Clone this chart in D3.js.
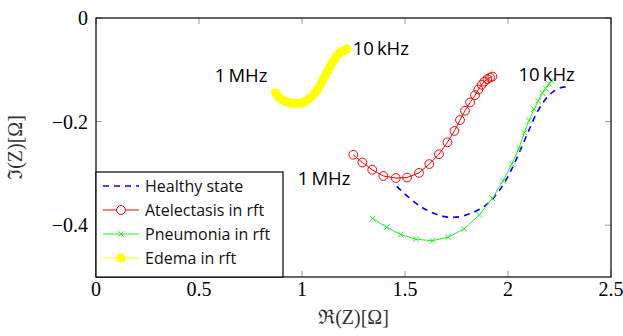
<!DOCTYPE html>
<html>
<head>
<meta charset="utf-8">
<script src="https://cdn.jsdelivr.net/npm/d3@7"></script>
<style>
  html, body { margin: 0; padding: 0; background: #fff; }
  svg { display: block; }
</style>
</head>
<body>
<svg id="chart" width="623" height="336"></svg>
<script>
// ---- data ----
const healthyRe = [1.46, 1.52, 1.58, 1.64, 1.70, 1.76, 1.82, 1.88, 1.93, 1.98, 2.02, 2.06, 2.10, 2.14, 2.18, 2.22, 2.26, 2.28];
const healthyIm = [-0.325, -0.347, -0.365, -0.377, -0.384, -0.384, -0.377, -0.365, -0.347, -0.320, -0.290, -0.255, -0.218, -0.183, -0.158, -0.142, -0.134, -0.133];

const atelectasisRe = [1.249, 1.293, 1.341, 1.395, 1.455, 1.510, 1.568, 1.618, 1.665, 1.706, 1.740, 1.767, 1.791, 1.816, 1.840, 1.856, 1.872, 1.885, 1.900, 1.913, 1.924];
const atelectasisIm = [-0.264, -0.279, -0.293, -0.305, -0.309, -0.308, -0.299, -0.282, -0.263, -0.240, -0.218, -0.197, -0.179, -0.163, -0.149, -0.138, -0.129, -0.123, -0.118, -0.115, -0.113];

const pneumoniaRe = [1.343, 1.411, 1.479, 1.553, 1.633, 1.710, 1.788, 1.861, 1.924, 1.975, 2.018, 2.053, 2.079, 2.102, 2.126, 2.147, 2.167, 2.183, 2.199, 2.212];
const pneumoniaIm = [-0.387, -0.404, -0.418, -0.427, -0.430, -0.423, -0.407, -0.380, -0.348, -0.315, -0.282, -0.252, -0.221, -0.198, -0.176, -0.160, -0.145, -0.136, -0.127, -0.121];

const edemaRe = [0.872, 0.885, 0.900, 0.915, 0.930, 0.945, 0.960, 0.975, 0.990, 1.005, 1.020, 1.035, 1.050, 1.063, 1.076, 1.088, 1.100, 1.112, 1.124, 1.136, 1.148, 1.160, 1.172, 1.185, 1.200, 1.218];
const edemaIm = [-0.145, -0.152, -0.157, -0.160, -0.162, -0.164, -0.165, -0.165, -0.165, -0.163, -0.160, -0.156, -0.151, -0.145, -0.138, -0.130, -0.121, -0.112, -0.103, -0.094, -0.086, -0.079, -0.072, -0.067, -0.063, -0.060];

const xTicks = [0, 0.5, 1, 1.5, 2, 2.5];
const yTicks = [0, -0.2, -0.4];

// frequency annotations: [text, re, im, anchor]
const annotations = [
  ['10\u2009kHz', 1.246, -0.058, 'start'],
  ['1\u2009MHz', 0.832, -0.111, 'end'],
  ['10\u2009kHz', 2.051, -0.110, 'start'],
  ['1\u2009MHz', 1.235, -0.309, 'end']
];

const legendNames = ['Healthy state', 'Atelectasis in rft', 'Pneumonia in rft', 'Edema in rft'];

// ---- layout ----
const M = { left: 96, top: 18, right: 611, bottom: 277 };
const SERIF = '"Liberation Serif", "DejaVu Serif", serif';
const SANS = '"Open Sans", "DejaVu Sans", sans-serif';
const COLORS = { healthy: '#0000ff', atel: '#ff0000', pneu: '#22ee22', edema: '#ffff00' };

const svg = d3.select('#chart');
const x = d3.scaleLinear().domain([0, 2.5]).range([M.left, M.right]);
const y = d3.scaleLinear().domain([-0.5, 0]).range([M.bottom, M.top]);

const zip = (a, b) => a.map((v, i) => [v, b[i]]);
const straight = d3.line().x(d => x(d[0])).y(d => y(d[1]));
const smooth = d3.line().x(d => x(d[0])).y(d => y(d[1])).curve(d3.curveCatmullRom);

const plot = svg.append('g').attr('class', 'plot');

// healthy: dashed blue, no markers
plot.append('path')
  .datum(zip(healthyRe, healthyIm))
  .attr('fill', 'none')
  .attr('stroke', COLORS.healthy)
  .attr('stroke-width', 1.6)
  .attr('stroke-dasharray', '6,5')
  .attr('d', smooth);

// edema: yellow, filled circles
const edema = zip(edemaRe, edemaIm);
plot.append('path').datum(edema)
  .attr('fill', 'none').attr('stroke', COLORS.edema).attr('stroke-width', 1)
  .attr('d', straight);
plot.selectAll('circle.edema').data(edema).join('circle')
  .attr('class', 'edema')
  .attr('cx', d => x(d[0])).attr('cy', d => y(d[1]))
  .attr('r', 4.6).attr('fill', COLORS.edema);

// atelectasis: red, open circles
const atel = zip(atelectasisRe, atelectasisIm);
plot.append('path').datum(atel)
  .attr('fill', 'none').attr('stroke', COLORS.atel).attr('stroke-width', 1)
  .attr('d', straight);
plot.selectAll('circle.atel').data(atel).join('circle')
  .attr('class', 'atel')
  .attr('cx', d => x(d[0])).attr('cy', d => y(d[1]))
  .attr('r', 4.4).attr('fill', 'none')
  .attr('stroke', COLORS.atel).attr('stroke-width', 1);

// pneumonia: green, x markers
const pneu = zip(pneumoniaRe, pneumoniaIm);
plot.append('path').datum(pneu)
  .attr('fill', 'none').attr('stroke', COLORS.pneu).attr('stroke-width', 1)
  .attr('d', straight);
const crossPath = s => `M${-s},${-s}L${s},${s}M${-s},${s}L${s},${-s}`;
plot.selectAll('path.pneu').data(pneu).join('path')
  .attr('class', 'pneu')
  .attr('transform', d => `translate(${x(d[0])},${y(d[1])})`)
  .attr('d', crossPath(2.8))
  .attr('stroke', COLORS.pneu).attr('stroke-width', 1);

// annotations
svg.append('g').selectAll('text').data(annotations).join('text')
  .attr('x', d => x(d[1]))
  .attr('y', d => y(d[2]))
  .attr('dy', '0.35em')
  .attr('text-anchor', d => d[3])
  .attr('font-family', SANS)
  .attr('font-size', 18.5)
  .attr('fill', '#000')
  .text(d => d[0]);

// ticks on all four sides, pointing inward
const ticks = svg.append('g').attr('stroke', '#999').attr('stroke-width', 1);
xTicks.forEach(t => {
  ticks.append('line').attr('x1', x(t)).attr('x2', x(t)).attr('y1', M.bottom).attr('y2', M.bottom - 6);
  ticks.append('line').attr('x1', x(t)).attr('x2', x(t)).attr('y1', M.top).attr('y2', M.top + 6);
});
yTicks.forEach(t => {
  ticks.append('line').attr('y1', y(t)).attr('y2', y(t)).attr('x1', M.left).attr('x2', M.left + 6);
  ticks.append('line').attr('y1', y(t)).attr('y2', y(t)).attr('x1', M.right).attr('x2', M.right - 6);
});

// frame
svg.append('rect')
  .attr('x', M.left).attr('y', M.top)
  .attr('width', M.right - M.left).attr('height', M.bottom - M.top)
  .attr('fill', 'none').attr('stroke', '#000').attr('stroke-width', 1.2);

// tick labels
const fmt = v => (v < 0 ? '\u2212' : '') + String(Math.abs(v));
svg.append('g').selectAll('text').data(xTicks).join('text')
  .attr('x', d => x(d)).attr('y', M.bottom + 19)
  .attr('text-anchor', 'middle')
  .attr('font-family', SERIF).attr('font-size', 20)
  .text(fmt);
svg.append('g').selectAll('text').data(yTicks).join('text')
  .attr('x', M.left - 8).attr('y', d => y(d)).attr('dy', '0.35em')
  .attr('text-anchor', 'end')
  .attr('font-family', SERIF).attr('font-size', 20)
  .text(fmt);

// axis labels
svg.append('text')
  .attr('x', (M.left + M.right) / 2).attr('y', 324)
  .attr('text-anchor', 'middle')
  .attr('font-family', SERIF).attr('font-size', 20)
  .attr('fill', '#333')
  .text('\u211C(Z)[\u03A9]');
svg.append('text')
  .attr('transform', `translate(22,${(M.top + M.bottom) / 2}) rotate(-90)`)
  .attr('text-anchor', 'middle')
  .attr('font-family', SERIF).attr('font-size', 20)
  .attr('fill', '#333')
  .text('\u2111(Z)[\u03A9]');

// legend
const legend = svg.append('g').attr('transform', `translate(${M.left},172)`);
legend.append('rect')
  .attr('width', 187).attr('height', 105)
  .attr('fill', '#fff').attr('stroke', '#000').attr('stroke-width', 1.2);
const rows = legend.selectAll('g.row').data(legendNames).join('g')
  .attr('class', 'row')
  .attr('transform', (d, i) => `translate(0,${14 + i * 24})`);
rows.append('line')
  .attr('x1', 7).attr('x2', 43)
  .attr('stroke', (d, i) => [COLORS.healthy, COLORS.atel, COLORS.pneu, COLORS.edema][i])
  .attr('stroke-width', (d, i) => i === 0 ? 1.6 : 1)
  .attr('stroke-dasharray', (d, i) => i === 0 ? '6,5' : null);
rows.filter((d, i) => i === 1).append('circle')
  .attr('cx', 25).attr('r', 4.4).attr('fill', '#fff').attr('stroke', COLORS.atel);
rows.filter((d, i) => i === 2).append('path')
  .attr('transform', 'translate(25,0)').attr('d', crossPath(2.8)).attr('stroke', COLORS.pneu);
rows.filter((d, i) => i === 3).append('circle')
  .attr('cx', 25).attr('r', 4.6).attr('fill', COLORS.edema);
rows.append('text')
  .attr('x', 49).attr('dy', '0.35em')
  .attr('font-family', SANS).attr('font-size', 16)
  .attr('fill', '#111')
  .text(d => d);
</script>
</body>
</html>
